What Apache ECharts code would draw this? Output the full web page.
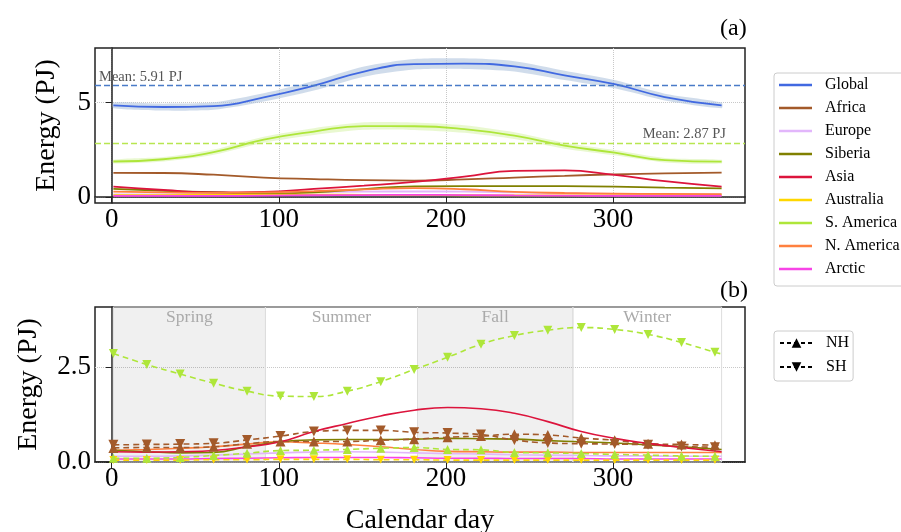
<!DOCTYPE html>
<html>
<head>
<meta charset="utf-8">
<script src="https://cdn.jsdelivr.net/npm/echarts@6/dist/echarts.min.js"></script>
<style>html,body{margin:0;padding:0;background:#fff}#main{width:901px;height:532px}</style>
</head>
<body>
<div id="main"></div>
<script>
// panel (a): regional totals
var topDays   = [1, 31, 61, 91, 121, 151, 181, 211, 241, 271, 301, 331, 365];
var globalE   = [4.86, 4.77, 4.82, 5.28, 5.90, 6.65, 7.04, 7.07, 6.93, 6.45, 5.98, 5.30, 4.86];
var globalBand= [0.15, 0.18, 0.20, 0.22, 0.25, 0.27, 0.28, 0.28, 0.27, 0.25, 0.22, 0.18, 0.15];
var africaE   = [1.28, 1.27, 1.18, 1.03, 0.95, 0.89, 0.87, 0.93, 1.03, 1.12, 1.20, 1.25, 1.29];
var europeE   = [0.13, 0.13, 0.15, 0.20, 0.25, 0.28, 0.29, 0.28, 0.24, 0.20, 0.16, 0.14, 0.13];
var siberiaE  = [0.43, 0.33, 0.25, 0.17, 0.25, 0.42, 0.56, 0.58, 0.58, 0.57, 0.55, 0.50, 0.46];
var asiaE     = [0.55, 0.37, 0.24, 0.27, 0.43, 0.60, 0.80, 1.08, 1.38, 1.41, 1.17, 0.84, 0.55];
var australiaE= [0.09, 0.10, 0.11, 0.12, 0.12, 0.11, 0.10, 0.09, 0.08, 0.08, 0.08, 0.09, 0.09];
var samericaE = [1.88, 2.00, 2.38, 3.04, 3.47, 3.76, 3.75, 3.60, 3.25, 2.72, 2.35, 1.95, 1.87];
var samericaBand = [0.10, 0.12, 0.14, 0.16, 0.18, 0.20, 0.20, 0.20, 0.18, 0.16, 0.14, 0.12, 0.10];
var namericaE = [0.28, 0.24, 0.22, 0.24, 0.31, 0.40, 0.47, 0.41, 0.27, 0.21, 0.18, 0.16, 0.15];
var arcticE   = [0.06, 0.06, 0.06, 0.07, 0.09, 0.10, 0.11, 0.10, 0.08, 0.07, 0.06, 0.06, 0.06];
var globalMean = 5.91;
var samericaMean = 2.87;

// panel (b): hemispheres
var botDays = [1, 21, 41, 61, 81, 101, 121, 141, 161, 181, 201, 221, 241, 261, 281, 301, 321, 341, 361, 365];
var saSH   = [2.85, 2.56, 2.31, 2.07, 1.86, 1.73, 1.72, 1.86, 2.11, 2.43, 2.75, 3.09, 3.32, 3.46, 3.53, 3.48, 3.35, 3.14, 2.88, 2.84];
var saNH   = [0.10, 0.10, 0.12, 0.17, 0.23, 0.30, 0.31, 0.33, 0.36, 0.38, 0.33, 0.32, 0.25, 0.24, 0.22, 0.20, 0.18, 0.16, 0.15, 0.15];
var afSH   = [0.45, 0.46, 0.47, 0.49, 0.58, 0.68, 0.80, 0.83, 0.83, 0.78, 0.76, 0.72, 0.58, 0.50, 0.48, 0.47, 0.45, 0.41, 0.39, 0.39];
var afNH   = [0.37, 0.38, 0.38, 0.40, 0.48, 0.54, 0.54, 0.54, 0.57, 0.60, 0.65, 0.68, 0.73, 0.71, 0.63, 0.57, 0.48, 0.46, 0.44, 0.43];
var auSH   = [0.05, 0.05, 0.05, 0.06, 0.06, 0.07, 0.07, 0.07, 0.06, 0.06, 0.05, 0.05, 0.05, 0.05, 0.05, 0.05, 0.05, 0.05, 0.05, 0.05];
var asiaB  = [0.27, 0.26, 0.27, 0.30, 0.40, 0.53, 0.80, 1.01, 1.21, 1.36, 1.43, 1.40, 1.28, 1.06, 0.80, 0.62, 0.49, 0.38, 0.29, 0.27];
var sibB   = [0.31, 0.27, 0.24, 0.25, 0.40, 0.53, 0.58, 0.59, 0.59, 0.60, 0.62, 0.61, 0.60, 0.56, 0.53, 0.50, 0.45, 0.40, 0.34, 0.33];
var naB    = [0.31, 0.33, 0.36, 0.40, 0.47, 0.53, 0.50, 0.46, 0.40, 0.33, 0.28, 0.27, 0.26, 0.26, 0.25, 0.25, 0.25, 0.25, 0.25, 0.25];
var euB    = [0.15, 0.15, 0.16, 0.18, 0.21, 0.24, 0.26, 0.27, 0.26, 0.24, 0.22, 0.21, 0.19, 0.18, 0.17, 0.16, 0.16, 0.15, 0.15, 0.15];
var arB    = [0.08, 0.08, 0.08, 0.09, 0.10, 0.11, 0.12, 0.12, 0.12, 0.11, 0.10, 0.10, 0.09, 0.09, 0.09, 0.08, 0.08, 0.08, 0.08, 0.08];

var seasons = [['Spring', 1, 92], ['Summer', 92, 183], ['Fall', 183, 276], ['Winter', 276, 365]];
var xTicks = [0, 100, 200, 300];
var yTicksA = [0, 5];
var yTicksB = [0, 2.5];
var regions = ['Global', 'Africa', 'Europe', 'Siberia', 'Asia', 'Australia', 'S. America', 'N. America', 'Arctic'];

var colors = {
    'Global': '#4169e1', 'Africa': '#a35a2a', 'Europe': '#e2b6fb', 'Siberia': '#808000',
    'Asia': '#dc143c', 'Australia': '#ffd700', 'S. America': '#aee63a', 'N. America': '#ff803f', 'Arctic': '#f744e6'
};
var FONT = 'Liberation Serif';
var DOWN = 'path://M0,0 L10,0 L5,9 Z';

function pairs(days, vals) {
    return days.map(function (d, i) { return [d, vals[i]]; });
}
// markers every 20 days, none on the closing point
function marked(days, vals) {
    return days.map(function (d, i) {
        var item = { value: [d, vals[i]] };
        if (i === days.length - 1) item.symbol = 'none';
        return item;
    });
}

var chart = echarts.init(document.getElementById('main'));

var series = [];
// shaded spread around a curve, one polygon through the axis scale
function band(vals, half, color) {
    var rows = topDays.map(function (d, i) { return [d, vals[i] - half[i], vals[i] + half[i]]; });
    series.push({
        type: 'custom', silent: true, z: 1, xAxisIndex: 0, yAxisIndex: 0,
        encode: { x: 0, y: [1, 2] },
        data: rows,
        renderItem: function (params, api) {
            if (params.dataIndex !== 0) return null;
            var up = [], lo = [];
            rows.forEach(function (r) {
                up.push(api.coord([r[0], r[2]]));
                lo.unshift(api.coord([r[0], r[1]]));
            });
            return {
                type: 'polygon',
                shape: { points: up.concat(lo), smooth: 0.25 },
                style: { fill: color }
            };
        }
    });
}
band(globalE, globalBand, 'rgba(176,196,222,0.6)');
band(samericaE, samericaBand, 'rgba(215,242,170,0.55)');

var topVals = [globalE, africaE, europeE, siberiaE, asiaE, australiaE, samericaE, namericaE, arcticE];
regions.forEach(function (r, k) {
    var s = {
        name: r, type: 'line', smooth: true, symbol: 'none', z: 3,
        color: colors[r], lineStyle: { width: 1.8 },
        data: pairs(topDays, topVals[k])
    };
    if (r === 'Global' || r === 'S. America') {
        var isG = r === 'Global';
        s.markLine = {
            silent: true, symbol: 'none',
            lineStyle: { type: [6, 3], width: 1.3, color: isG ? '#4a7bc8' : '#b8e650' },
            label: {
                formatter: 'Mean: ' + (isG ? globalMean : samericaMean).toFixed(2) + ' PJ',
                position: isG ? 'insideStartTop' : 'insideEndTop',
                color: '#555', fontFamily: FONT, fontSize: 14.5,
                padding: isG ? [0, 0, 0, 3] : [0, 18, 0, 0], distance: 1
            },
            data: [{ yAxis: isG ? globalMean : samericaMean }]
        };
    }
    series.push(s);
});

// panel (b)
var bX = { xAxisIndex: 1, yAxisIndex: 1 };
series.push(Object.assign({
    name: 'seasons', type: 'line', data: [], silent: true,
    markArea: {
        silent: true,
        label: { position: 'insideTop', color: '#aaaaaa', fontFamily: FONT, fontSize: 17.5, distance: 2 },
        data: seasons.map(function (s, i) {
            return [{
                name: s[0], xAxis: s[1],
                itemStyle: { color: i % 2 === 0 ? 'rgba(0,0,0,0.06)' : 'rgba(255,255,255,0)', borderColor: '#dddddd', borderWidth: 1 }
            }, { xAxis: s[2] }];
        })
    }
}, bX));

function solidB(name, color, vals) {
    series.push(Object.assign({
        name: name, type: 'line', smooth: true, symbol: 'none', color: color,
        lineStyle: { width: 1.6 }, data: pairs(botDays, vals)
    }, bX));
}
function hemi(name, color, vals, up, size) {
    series.push(Object.assign({
        name: name, type: 'line', smooth: true, color: color,
        symbol: up ? 'triangle' : DOWN, symbolSize: size, showAllSymbol: true,
        lineStyle: { width: 1.6, type: [6, 4] }, data: marked(botDays, vals)
    }, bX));
}
solidB('Arctic b', colors['Arctic'], arB);
solidB('Europe b', colors['Europe'], euB);
hemi('Australia SH', colors['Australia'], auSH, false, 8);
solidB('N. America b', colors['N. America'], naB);
solidB('Siberia b', colors['Siberia'], sibB);
hemi('S. America NH', colors['S. America'], saNH, true, 9);
hemi('Africa NH', colors['Africa'], afNH, true, 10);
hemi('Africa SH', colors['Africa'], afSH, false, 10);
solidB('Asia b', colors['Asia'], asiaB);
hemi('S. America SH', colors['S. America'], saSH, false, 9);

// legend keys for hemispheres
series.push(Object.assign({ name: 'NH', type: 'line', data: [], color: '#000', symbol: 'triangle', symbolSize: 8, lineStyle: { type: [4, 3], width: 1.5 } }, bX));
series.push(Object.assign({ name: 'SH', type: 'line', data: [], color: '#000', symbol: DOWN, symbolSize: 8, lineStyle: { type: [4, 3], width: 1.5 } }, bX));

function xAxisCfg(idx, withName) {
    var a = {
        gridIndex: idx, type: 'value', min: -10, max: 379,
        axisLine: { show: true, lineStyle: { color: '#222', width: 1.5 } },
        axisTick: { customValues: xTicks, length: 6, lineStyle: { color: '#222' } },
        axisLabel: { customValues: xTicks, color: '#000', fontFamily: FONT, fontSize: 27, margin: 3 },
        splitLine: { show: idx === 0, lineStyle: { type: 'dotted', color: '#c8c8c8' } }
    };
    if (withName) {
        a.name = 'Calendar day';
        a.nameLocation = 'middle';
        a.nameGap = 45;
        a.nameMoveOverlap = false;
        a.nameTextStyle = { color: '#000', fontFamily: FONT, fontSize: 28 };
    }
    return a;
}
function yAxisCfg(idx, min, max, ticks, fmt, gap) {
    return {
        gridIndex: idx, type: 'value', min: min, max: max,
        name: 'Energy (PJ)', nameLocation: 'middle', nameGap: gap, nameMoveOverlap: false,
        nameTextStyle: { color: '#000', fontFamily: FONT, fontSize: 28 },
        axisLine: { show: true, lineStyle: { color: '#222', width: 1.5 } },
        axisTick: { customValues: ticks, length: 6, lineStyle: { color: '#222' } },
        axisLabel: { customValues: ticks, color: '#000', fontFamily: FONT, fontSize: 27, margin: 4, formatter: fmt },
        splitLine: { show: true, lineStyle: { type: 'dotted', color: '#c8c8c8' } }
    };
}

var legendText = { fontFamily: FONT, fontSize: 16, color: '#000', padding: [0, 0, 0, 8] };
var option = {
    animation: false,
    backgroundColor: '#fff',
    textStyle: { fontFamily: FONT },
    title: [
        { text: '(a)', left: 715, top: 12, textStyle: { fontFamily: FONT, fontSize: 24, fontWeight: 'normal', color: '#000' } },
        { text: '(b)', left: 715, top: 274, textStyle: { fontFamily: FONT, fontSize: 24, fontWeight: 'normal', color: '#000' } }
    ],
    legend: [
        {
            data: regions, orient: 'vertical', left: 774, top: 73, icon: 'rect',
            itemWidth: 33, itemHeight: 2.5, itemGap: 7, padding: [4, 8, 9, 5],
            borderColor: '#cccccc', borderWidth: 1, borderRadius: 3,
            textStyle: legendText
        },
        {
            data: ['NH', 'SH'], orient: 'vertical', left: 774, top: 331,
            itemWidth: 33, itemHeight: 12, itemGap: 8, padding: [4, 4, 6, 5],
            borderColor: '#cccccc', borderWidth: 1, borderRadius: 3,
            textStyle: legendText
        }
    ],
    grid: [
        { left: 95, top: 48, width: 650, height: 155, show: true, borderColor: '#222', borderWidth: 1.5, outerBoundsMode: 'none' },
        { left: 95, top: 307, width: 650, height: 155, show: true, borderColor: '#222', borderWidth: 1.5, outerBoundsMode: 'none' }
    ],
    xAxis: [xAxisCfg(0, false), xAxisCfg(1, true)],
    yAxis: [
        yAxisCfg(0, -0.32, 7.9, yTicksA, function (v) { return String(v); }, 34),
        yAxisCfg(1, 0, 4.07, yTicksB, function (v) { return v.toFixed(1); }, 52)
    ],
    series: series
};

chart.setOption(option);
</script>
</body>
</html>
